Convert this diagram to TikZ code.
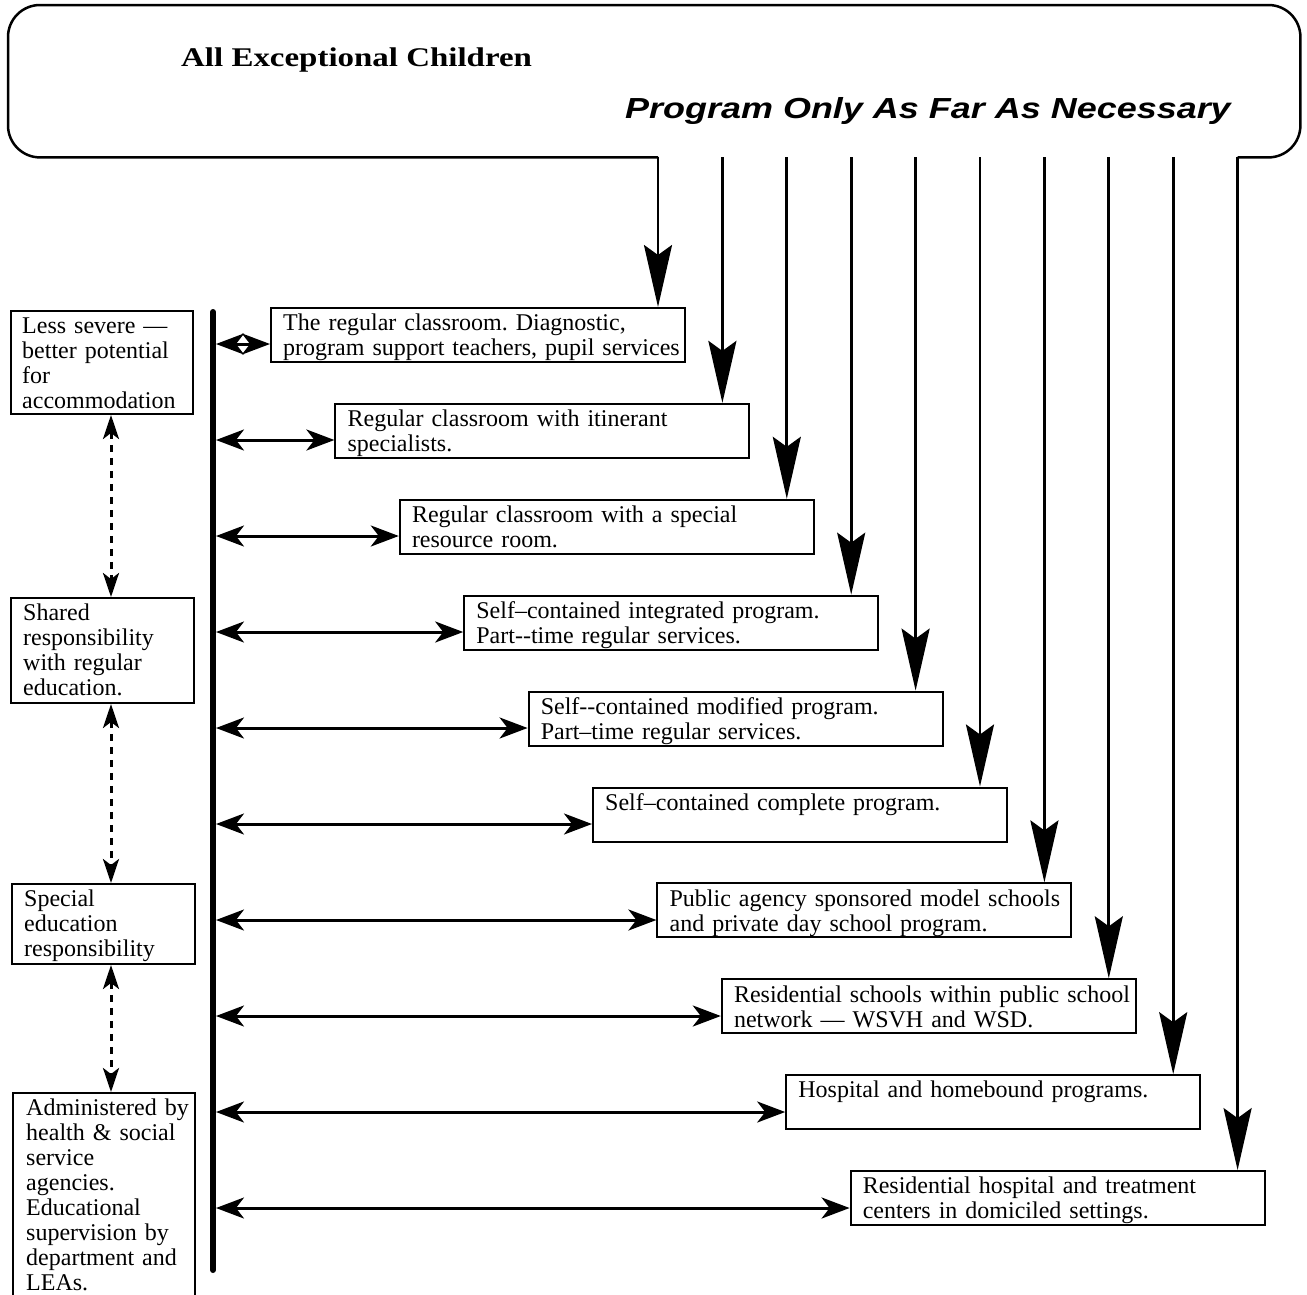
\documentclass[tikz,border=0pt]{standalone}
\usepackage{fontspec}
\setmainfont{Liberation Serif}
\newfontfamily\progfont{Liberation Sans}
\usetikzlibrary{arrows.meta,calc}
\frenchspacing
\tikzset{
  rbox/.style={draw, line width=2pt, anchor=north west, minimum width=414pt, minimum height=54pt, inner sep=0pt},
  lbox/.style={draw, line width=2pt, anchor=north west, inner sep=0pt},
  btext/.style={anchor=north west, inner sep=0pt, text width=402pt, align=left, font=\fontsize{24}{25}\selectfont},
  ltext/.style={anchor=north west, inner sep=0pt, text width=176pt, align=left, font=\fontsize{24}{25}\selectfont},
  varrow/.style={line width=2.8pt, -{Stealth[length=62pt,width=28pt,inset=10pt]}},
  harrow/.style={line width=3pt, {Stealth[length=28pt,width=21pt,inset=8pt]}-{Stealth[length=28pt,width=21pt,inset=8pt]}},
  darrow/.style={line width=3pt, dash pattern=on 7pt off 6pt, {Stealth[length=24pt,width=16pt,inset=6pt]}-{Stealth[length=24pt,width=16pt,inset=6pt]}}
}
\begin{document}
\begin{tikzpicture}[x=1pt,y=-1pt]
\clip (0,0) rectangle (1307,1294);
\fill[white] (0,0) rectangle (1307,1294);

% top box
\node (top) [anchor=north west, minimum width=1292pt, minimum height=152pt, inner sep=0pt] at (8,5) {};
\node (title) [anchor=base west, inner sep=0pt] at (181,66) {\scalebox{1.22}[1]{\fontsize{27}{30}\selectfont\bfseries All Exceptional Children}};
\node (prog) [anchor=base west, inner sep=0pt] at (625,118) {\scalebox{1.24}[1]{\fontsize{29}{32}\selectfont\progfont\bfseries\itshape Program Only As Far As Necessary}};

% right boxes
\foreach \i in {1,...,10}{
  \node (b\i) [rbox] at ({270+64.4*(\i-1)},{307+95.9*(\i-1)}) {};
  \coordinate (v\i) at ($(b\i.north east)+(-28,0)$);
  \coordinate (h\i) at (216,{344+96*(\i-1)});
}
\node (t1) [btext] at ($(b1.north west)+(13,6)$) {\strut The regular classroom. Diagnostic,\\program support teachers, pupil services};
\node (t2) [btext] at ($(b2.north west)+(13,6)$) {\strut Regular classroom with itinerant\\specialists.};
\node (t3) [btext] at ($(b3.north west)+(13,6)$) {\strut Regular classroom with a special\\resource room.};
\node (t4) [btext] at ($(b4.north west)+(13,6)$) {\strut Self–contained integrated program.\\Part-{}-time regular services.};
\node (t5) [btext] at ($(b5.north west)+(13,6)$) {\strut Self-{}-contained modified program.\\Part–time regular services.};
\node (t6) [btext] at ($(b6.north west)+(13,6)$) {\strut Self–contained complete program.};
\node (t7) [btext] at ($(b7.north west)+(13,6)$) {\strut Public agency sponsored model schools\\and private day school program.};
\node (t8) [btext] at ($(b8.north west)+(13,6)$) {\strut Residential schools within public school\\network — WSVH and WSD.};
\node (t9) [btext] at ($(b9.north west)+(13,6)$) {\strut Hospital and homebound programs.};
\node (t10) [btext] at ($(b10.north west)+(13,6)$) {\strut Residential hospital and treatment\\centers in domiciled settings.};

% top box outline (open between the first and last arrows)
\draw[line width=2.5pt, rounded corners=32pt] (v1 |- top.south) -- (top.south west) -- (top.north west) -- (top.north east) -- (top.south east) -- (v10 |- top.south);

% vertical arrows
\foreach \i in {1,...,10}{
  \draw[varrow] (v\i |- top.south) -- (v\i);
}

% vertical bar
\coordinate (barTop) at (213,312);
\coordinate (barBot) at (213,1270);
\draw[line width=6pt, line cap=round] (barTop) -- (barBot);

% horizontal arrows
\foreach \i in {1,...,10}{
  \draw[harrow] (h\i) -- (h\i -| b\i.west);
}

% left boxes
\node (L1) [lbox, minimum width=182pt, minimum height=103pt] at (10,310) {};
\node (L2) [lbox, minimum width=183pt, minimum height=105pt] at (10,597) {};
\node (L3) [lbox, minimum width=183pt, minimum height=80pt] at (11,883) {};
\node (L4) [lbox, minimum width=182pt, minimum height=230pt] at (12,1092) {};
\node (l1) [ltext] at ($(L1.north west)+(12,5.5)$) {\strut Less severe —\\better potential\\for\\accommodation};
\node (l2) [ltext] at ($(L2.north west)+(13,5.5)$) {\strut Shared\\responsibility\\with regular\\education.};
\node (l3) [ltext] at ($(L3.north west)+(13,5.5)$) {\strut Special\\education\\responsibility};
\node (l4) [ltext] at ($(L4.north west)+(14,5.5)$) {\strut Administered by\\health \& social\\service\\agencies.\\Educational\\supervision by\\department and\\LEAs.};

% dashed arrows
\coordinate (dx) at (111,0);
\draw[darrow] (dx |- L1.south) -- (dx |- L2.north);
\draw[darrow] (dx |- L2.south) -- (dx |- L3.north);
\draw[darrow] (dx |- L3.south) -- (dx |- L4.north);
\end{tikzpicture}
\end{document}
